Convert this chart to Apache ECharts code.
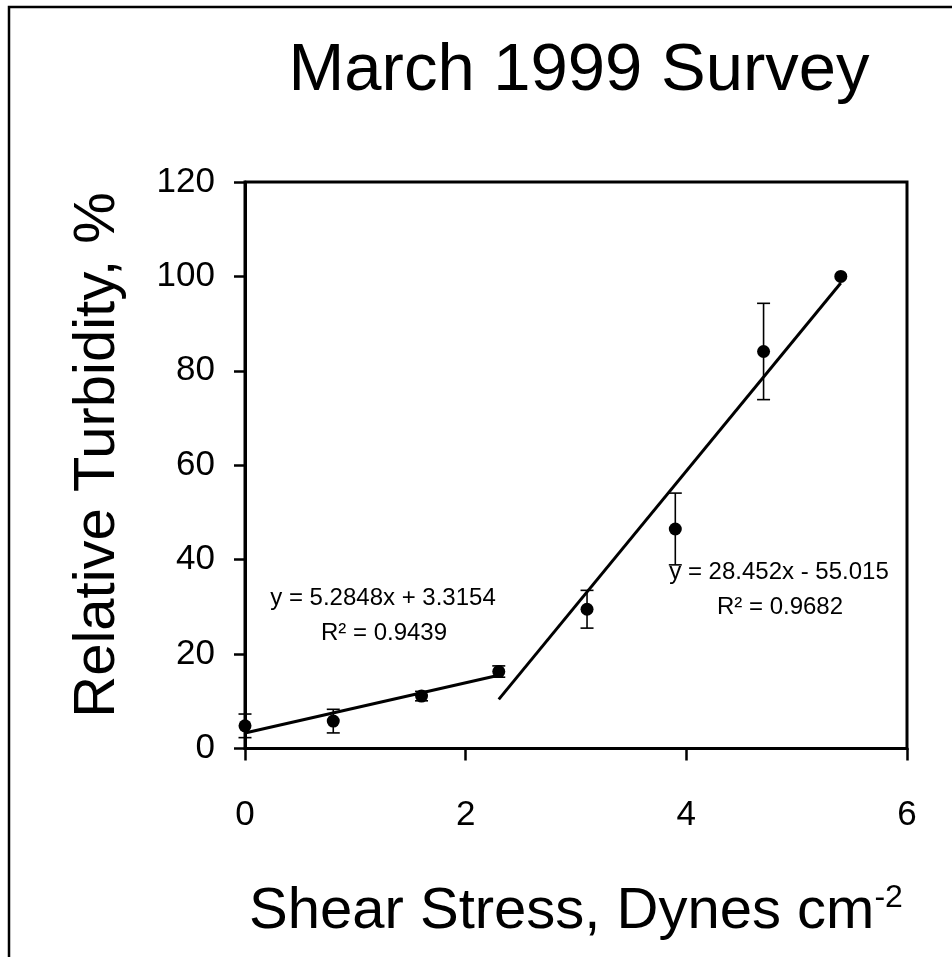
<!DOCTYPE html>
<html>
<head>
<meta charset="utf-8">
<script src="https://cdn.jsdelivr.net/npm/echarts@6/dist/echarts.min.js"></script>
<style>
    html, body { margin: 0; padding: 0; background: #fff; }
    #chart { width: 952px; height: 957px; }
</style>
</head>
<body>
<div id="chart"></div>
<script>
// 读图得到的数据
const shearStress = [0, 0.8, 1.6, 2.3, 3.1, 3.9, 4.7, 5.4]
const turbidity = [4.8, 5.8, 11.1, 16.3, 29.5, 46.5, 84.1, 100]
const errHalf = [2.5, 2.5, 1.0, 1.2, 4.0, 7.6, 10.2, 0]

// 两段趋势线的端点
const fitLow = [[0, 3.3], [2.3, 15.5]]
const fitHigh = [[2.3, 10.4], [5.4, 98.6]]

const xTicks = [0, 2, 4, 6]
const yTicks = [0, 20, 40, 60, 80, 100, 120]

const eqLow = ['y = 5.2848x + 3.3154', 'R² = 0.9439']
const eqHigh = ['y = 28.452x - 55.015', 'R² = 0.9682']

const FONT = "'Liberation Sans', Arial, sans-serif"
const BLACK = '#000'

const chart = echarts.init(document.getElementById('chart'))

const errData = shearStress
    .map((x, i) => [x, turbidity[i] - errHalf[i], turbidity[i] + errHalf[i]])
    .filter((d, i) => errHalf[i] > 0)

function textEl(text, x, y, size, extra) {
    return Object.assign({
        type: 'text',
        x: x,
        y: y,
        style: {
            text: text,
            fill: BLACK,
            font: `${size}px ${FONT}`,
            align: 'center',
            verticalAlign: 'middle'
        }
    }, extra || {})
}

const option = {
    backgroundColor: '#fff',
    animation: false,
    grid: {
        left: 245,
        top: 182,
        right: 45,
        bottom: 208.5,
        show: true,
        borderColor: BLACK,
        borderWidth: 3,
        backgroundColor: 'transparent'
    },
    xAxis: {
        type: 'value',
        min: xTicks[0],
        max: xTicks[xTicks.length - 1],
        interval: 2,
        splitLine: { show: false },
        axisLine: { onZero: false, lineStyle: { color: BLACK, width: 3 } },
        axisTick: { inside: false, length: 12, lineStyle: { color: BLACK, width: 2.5 } },
        axisLabel: { color: BLACK, fontSize: 35, fontFamily: FONT, margin: 49 },
        name: 'Shear Stress, Dynes cm{sup|-2}',
        nameLocation: 'middle',
        nameGap: 134,
        nameTextStyle: {
            color: BLACK,
            fontSize: 58,
            fontFamily: FONT,
            rich: {
                sup: { fontSize: 32, fontFamily: FONT, color: BLACK, verticalAlign: 'top', lineHeight: 42 }
            }
        }
    },
    yAxis: {
        type: 'value',
        min: yTicks[0],
        max: yTicks[yTicks.length - 1],
        interval: 20,
        splitLine: { show: false },
        axisLine: { onZero: false, lineStyle: { color: BLACK, width: 3 } },
        axisTick: { inside: false, length: 11, lineStyle: { color: BLACK, width: 2.5 } },
        axisLabel: { color: BLACK, fontSize: 35, fontFamily: FONT, margin: 30, padding: [10, 0, 0, 0] }
    },
    graphic: [
        // 外框（只露出左边和上边）
        {
            type: 'rect',
            shape: { x: 9, y: 7, width: 1100, height: 1100 },
            style: { fill: 'none', stroke: BLACK, lineWidth: 2.5 }
        },
        textEl('March 1999 Survey', 579, 72, 67),
        textEl('Relative Turbidity, %', 98, 455, 58, { rotation: Math.PI / 2 }),
        textEl(eqLow[0], 383, 598, 24),
        textEl(eqLow[1], 384, 633, 24),
        textEl(eqHigh[0], 779, 572, 24),
        textEl(eqHigh[1], 780, 607, 24)
    ],
    series: [
        {
            type: 'custom',
            name: 'error',
            data: errData,
            encode: { x: 0, y: [1, 2] },
            z: 2,
            renderItem: (params, api) => {
                const x = api.value(0)
                const top = api.coord([x, api.value(2)])
                const bot = api.coord([x, api.value(1)])
                const cap = 6.5
                const st = { stroke: BLACK, lineWidth: 1.6 }
                return {
                    type: 'group',
                    children: [
                        { type: 'line', shape: { x1: top[0], y1: top[1], x2: bot[0], y2: bot[1] }, style: st },
                        { type: 'line', shape: { x1: top[0] - cap, y1: top[1], x2: top[0] + cap, y2: top[1] }, style: st },
                        { type: 'line', shape: { x1: bot[0] - cap, y1: bot[1], x2: bot[0] + cap, y2: bot[1] }, style: st }
                    ]
                }
            }
        },
        {
            type: 'line',
            data: fitLow,
            symbol: 'none',
            z: 3,
            lineStyle: { color: BLACK, width: 3 }
        },
        {
            type: 'line',
            data: fitHigh,
            symbol: 'none',
            z: 3,
            lineStyle: { color: BLACK, width: 3 }
        },
        {
            type: 'scatter',
            data: shearStress.map((x, i) => [x, turbidity[i]]),
            symbol: 'circle',
            symbolSize: 13,
            z: 4,
            itemStyle: { color: BLACK, opacity: 1 }
        }
    ]
}

chart.setOption(option)
</script>
</body>
</html>
